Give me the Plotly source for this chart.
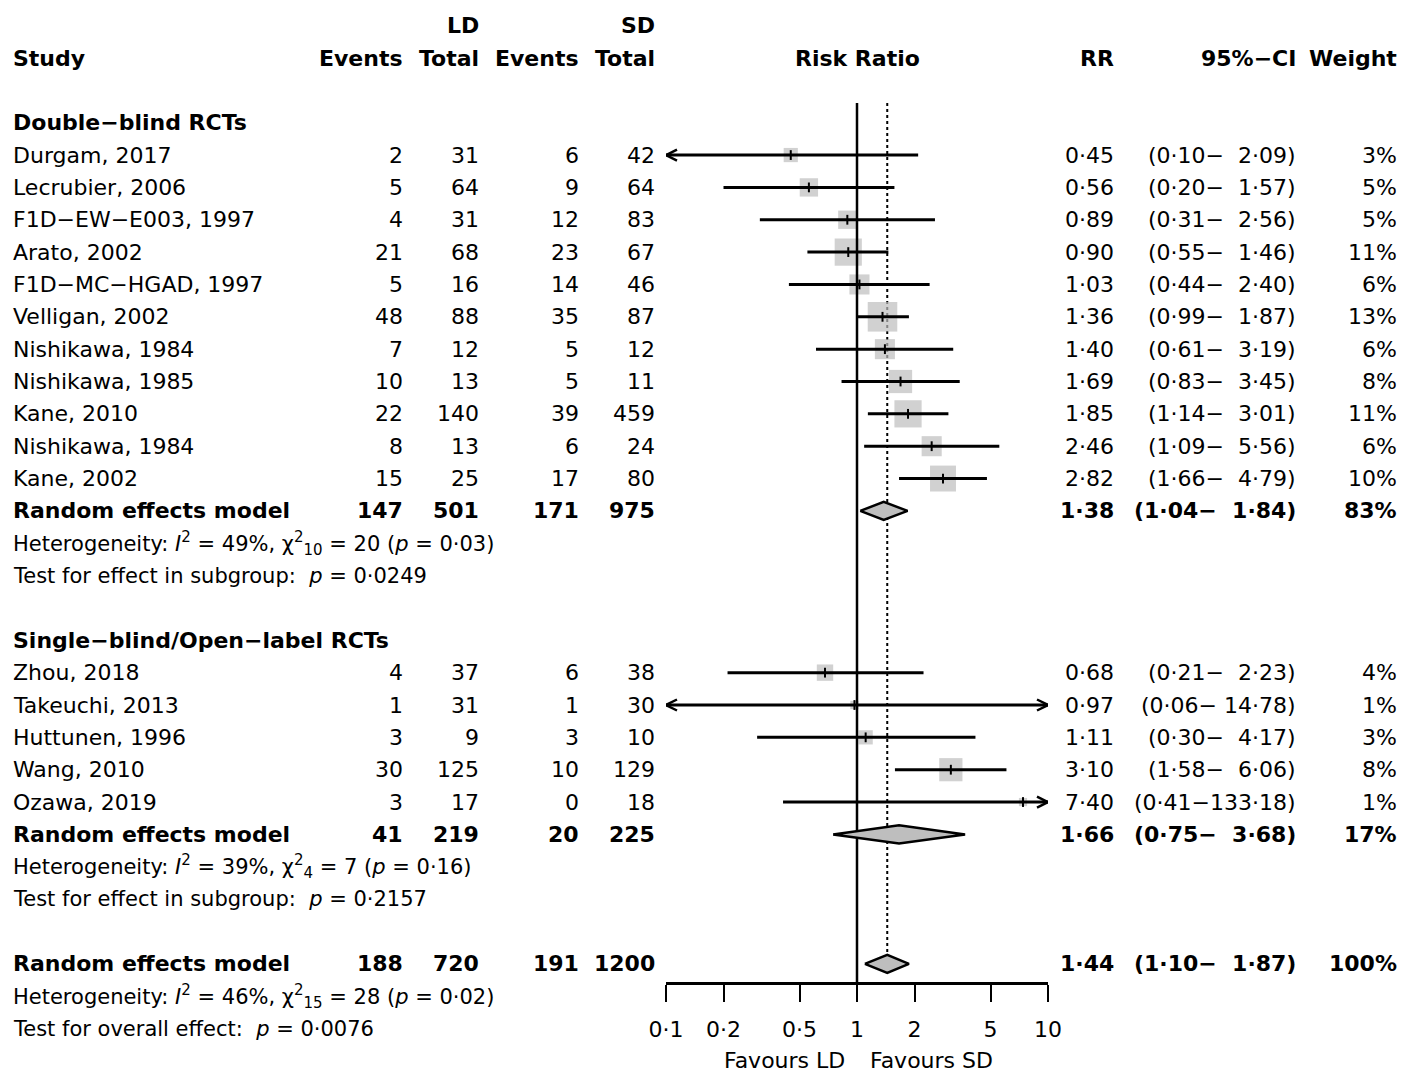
import math
import plotly.graph_objects as go

W, H = 1401, 1073
FONT = "DejaVu Sans"
FS = 22
FS_HET = 21

# ---------------- data ----------------
group_names = ["Double−blind RCTs", "Single−blind/Open−label RCTs"]

db_study = ["Durgam, 2017", "Lecrubier, 2006", "F1D−EW−E003, 1997", "Arato, 2002",
            "F1D−MC−HGAD, 1997", "Velligan, 2002", "Nishikawa, 1984", "Nishikawa, 1985",
            "Kane, 2010", "Nishikawa, 1984", "Kane, 2002"]
db_ld_events = [2, 5, 4, 21, 5, 48, 7, 10, 22, 8, 15]
db_ld_total = [31, 64, 31, 68, 16, 88, 12, 13, 140, 13, 25]
db_sd_events = [6, 9, 12, 23, 14, 35, 5, 5, 39, 6, 17]
db_sd_total = [42, 64, 83, 67, 46, 87, 12, 11, 459, 24, 80]
db_rr = [0.45, 0.56, 0.89, 0.90, 1.03, 1.36, 1.40, 1.69, 1.85, 2.46, 2.82]
db_lo = [0.10, 0.20, 0.31, 0.55, 0.44, 0.99, 0.61, 0.83, 1.14, 1.09, 1.66]
db_hi = [2.09, 1.57, 2.56, 1.46, 2.40, 1.87, 3.19, 3.45, 3.01, 5.56, 4.79]
db_weight = [3, 5, 5, 11, 6, 13, 6, 8, 11, 6, 10]

sb_study = ["Zhou, 2018", "Takeuchi, 2013", "Huttunen, 1996", "Wang, 2010", "Ozawa, 2019"]
sb_ld_events = [4, 1, 3, 30, 3]
sb_ld_total = [37, 31, 9, 125, 17]
sb_sd_events = [6, 1, 3, 10, 0]
sb_sd_total = [38, 30, 10, 129, 18]
sb_rr = [0.68, 0.97, 1.11, 3.10, 7.40]
sb_lo = [0.21, 0.06, 0.30, 1.58, 0.41]
sb_hi = [2.23, 14.78, 4.17, 6.06, 133.18]
sb_weight = [4, 1, 3, 8, 1]

pooled_label = ["Random effects model", "Random effects model", "Random effects model"]
pooled_ld_events = [147, 41, 188]
pooled_ld_total = [501, 219, 720]
pooled_sd_events = [171, 20, 191]
pooled_sd_total = [975, 225, 1200]
pooled_rr = [1.38, 1.66, 1.44]
pooled_lo = [1.04, 0.75, 1.10]
pooled_hi = [1.84, 3.68, 1.87]
pooled_weight = [83, 17, 100]

het_i2 = [49, 39, 46]
het_df = [10, 4, 15]
het_q = [20, 7, 28]
het_p = ["0·03", "0·16", "0·02"]
test_label = ["Test for effect in subgroup:", "Test for effect in subgroup:", "Test for overall effect:"]
test_p = ["0·0249", "0·2157", "0·0076"]

tick_values = [0.1, 0.2, 0.5, 1, 2, 5, 10]
tick_labels = ["0·1", "0·2", "0·5", "1", "2", "5", "10"]
label_left = "Favours LD"
label_right = "Favours SD"

# ---------------- layout helpers ----------------
ROW_PX = 32.35
Y0_PX = 58.0
y_top = -Y0_PX / ROW_PX
y_bot = (H - Y0_PX) / ROW_PX

X_LO_PX, X_HI_PX = 666, 1048
XMIN, XMAX = 0.1, 10.0

COL_STUDY = 14
COL_LDE = 402
COL_LDT = 478
COL_SDE = 578
COL_SDT = 654
COL_RISK = 857
COL_RR = 1113
COL_CI = 1295
COL_W = 1396
PAD = 3  # compensate annotation padding

NBSP = "\u00a0"


def dot(v, nd=2):
    return f"{v:.{nd}f}".replace(".", "·")


def ci_text(lo, hi):
    h = dot(hi)
    return "(" + dot(lo) + "−" + NBSP * (6 - len(h)) + h + ")"


annotations = []


def txt(xpx, row, s, anchor="right", bold=False, size=FS):
    if anchor == "right":
        xpx = xpx + PAD
    elif anchor == "left":
        xpx = xpx - PAD
    annotations.append(dict(
        x=xpx / W, xref="paper", y=row, yref="y",
        text=f"<b>{s}</b>" if bold else s,
        xanchor=anchor, yanchor="middle", showarrow=False,
        font=dict(family=FONT, size=size, color="black")))


def span(s, size, italic=False):
    inner = f"<i>{s}</i>" if italic else s
    return f"<span style='font-size:{size}px'>{inner}</span>"


# headers
txt(COL_LDT, -1, "LD", bold=True)
txt(COL_SDT, -1, "SD", bold=True)
txt(COL_STUDY, 0, "Study", "left", bold=True)
txt(COL_LDE, 0, "Events", bold=True)
txt(COL_LDT, 0, "Total", bold=True)
txt(COL_SDE, 0, "Events", bold=True)
txt(COL_SDT, 0, "Total", bold=True)
txt(COL_RISK, 0, "Risk Ratio", "center", bold=True)
txt(COL_RR, 0, "RR", bold=True)
txt(COL_CI, 0, "95%−CI", bold=True)
txt(COL_W, 0, "Weight", bold=True)

groups = [
    (db_study, db_ld_events, db_ld_total, db_sd_events, db_sd_total, db_rr, db_lo, db_hi, db_weight),
    (sb_study, sb_ld_events, sb_ld_total, sb_sd_events, sb_sd_total, sb_rr, sb_lo, sb_hi, sb_weight),
]

st_rows, st_rr, st_lo, st_hi, st_w = [], [], [], [], []
pooled_rows = []
het_rows = []

row = 2
for gi, g in enumerate(groups):
    names, lde, ldt, sde, sdt, rr, lo, hi, wt = g
    txt(COL_STUDY, row, group_names[gi], "left", bold=True)
    row += 1
    for i in range(len(names)):
        txt(COL_STUDY, row, names[i], "left")
        txt(COL_LDE, row, str(lde[i]))
        txt(COL_LDT, row, str(ldt[i]))
        txt(COL_SDE, row, str(sde[i]))
        txt(COL_SDT, row, str(sdt[i]))
        txt(COL_RR, row, dot(rr[i]))
        txt(COL_CI, row, ci_text(lo[i], hi[i]))
        txt(COL_W, row, f"{wt[i]}%")
        st_rows.append(row); st_rr.append(rr[i]); st_lo.append(lo[i]); st_hi.append(hi[i]); st_w.append(wt[i])
        row += 1
    pooled_rows.append(row)
    row += 1
    het_rows.append(row)
    row += 3
pooled_rows.append(row)
het_rows.append(row + 1)

SUBSZ = 15
for k in range(3):
    r = pooled_rows[k]
    txt(COL_STUDY, r, pooled_label[k], "left", bold=True)
    txt(COL_LDE, r, str(pooled_ld_events[k]), bold=True)
    txt(COL_LDT, r, str(pooled_ld_total[k]), bold=True)
    txt(COL_SDE, r, str(pooled_sd_events[k]), bold=True)
    txt(COL_SDT, r, str(pooled_sd_total[k]), bold=True)
    txt(COL_RR, r, dot(pooled_rr[k]), bold=True)
    txt(COL_CI, r, ci_text(pooled_lo[k], pooled_hi[k]), bold=True)
    txt(COL_W, r, f"{pooled_weight[k]}%", bold=True)
    hr = het_rows[k]
    het = ("Heterogeneity: " + span("I", FS_HET, True) + "<sup>" + span("2", SUBSZ) + "</sup>"
           + f" = {het_i2[k]}%, χ" + "<sup>" + span("2", SUBSZ) + "</sup>"
           + "<sub>" + span(str(het_df[k]), SUBSZ) + "</sub>"
           + f" = {het_q[k]} (" + span("p", FS_HET, True) + f" = {het_p[k]})")
    txt(COL_STUDY, hr, het, "left", size=FS_HET)
    txt(COL_STUDY, hr + 1, f"{test_label[k]}{NBSP}{NBSP}" + span("p", FS_HET, True) + f" = {test_p[k]}",
        "left", size=FS_HET)

fav_row = (1060 - Y0_PX) / ROW_PX
axis_row = (983 - Y0_PX) / ROW_PX
txt(844, fav_row, label_left, "right")
txt(871, fav_row, label_right, "left")

# ---------------- marks ----------------
fig = go.Figure()

top_row = (103 - Y0_PX) / ROW_PX
DIAM_H = 0.28

# dotted line at overall estimate
fig.add_trace(go.Scatter(x=[pooled_rr[2], pooled_rr[2]], y=[top_row, pooled_rows[2] - DIAM_H],
                         mode="lines", line=dict(color="black", width=2, dash="dot"),
                         hoverinfo="skip", showlegend=False))

# squares
fig.add_trace(go.Scatter(x=st_rr, y=st_rows, mode="markers",
                         marker=dict(symbol="square", color="#BEBEBE",
                                     size=[8.2 * math.sqrt(w) for w in st_w], line=dict(width=0)),
                         hoverinfo="skip", showlegend=False))

# null line
fig.add_trace(go.Scatter(x=[1, 1], y=[top_row, axis_row], mode="lines",
                         line=dict(color="black", width=2.5), hoverinfo="skip", showlegend=False))

# CI lines with arrows where clipped
ARROW_F = 10 ** (11 / 191.0)
ARROW_H = 5.5 / ROW_PX
lx, ly, ax, ay = [], [], [], []
for r, lo, hi in zip(st_rows, st_lo, st_hi):
    a = max(lo, XMIN)
    b = min(hi, XMAX)
    lx += [a, b, None]; ly += [r, r, None]
    if lo <= XMIN:
        ax += [XMIN * ARROW_F, XMIN, XMIN * ARROW_F, None]
        ay += [r - ARROW_H, r, r + ARROW_H, None]
    if hi >= XMAX:
        ax += [XMAX / ARROW_F, XMAX, XMAX / ARROW_F, None]
        ay += [r - ARROW_H, r, r + ARROW_H, None]
fig.add_trace(go.Scatter(x=lx, y=ly, mode="lines", line=dict(color="black", width=3),
                         hoverinfo="skip", showlegend=False))
fig.add_trace(go.Scatter(x=ax, y=ay, mode="lines", line=dict(color="black", width=2.5),
                         hoverinfo="skip", showlegend=False))

# estimate ticks
fig.add_trace(go.Scatter(x=st_rr, y=st_rows, mode="markers",
                         marker=dict(symbol="line-ns", size=7, color="black",
                                     line=dict(width=2, color="black")),
                         hoverinfo="skip", showlegend=False))

# diamonds
for k in range(3):
    r = pooled_rows[k]
    fig.add_trace(go.Scatter(
        x=[pooled_lo[k], pooled_rr[k], pooled_hi[k], pooled_rr[k], pooled_lo[k]],
        y=[r, r - DIAM_H, r, r + DIAM_H, r],
        mode="lines", fill="toself", fillcolor="#BEBEBE",
        line=dict(color="black", width=2.5), hoverinfo="skip", showlegend=False))

axis_pos = (y_bot - axis_row) / (y_bot - y_top)

fig.update_layout(
    width=W, height=H,
    margin=dict(l=0, r=0, t=0, b=0, autoexpand=False),
    paper_bgcolor="white", plot_bgcolor="white",
    showlegend=False,
    annotations=annotations,
    font=dict(family=FONT, size=FS, color="black"),
    xaxis=dict(type="log", range=[math.log10(XMIN), math.log10(XMAX)],
               domain=[X_LO_PX / W, X_HI_PX / W], anchor="free", position=axis_pos,
               showline=True, linecolor="black", linewidth=2.5,
               ticks="outside", ticklen=17, tickwidth=2, tickcolor="black",
               tickvals=tick_values, ticktext=tick_labels,
               tickfont=dict(family=FONT, size=FS, color="black"),
               ticklabelstandoff=9, automargin=False,
               showgrid=False, zeroline=False, fixedrange=True),
    yaxis=dict(range=[y_bot, y_top], domain=[0, 1], visible=False, automargin=False,
               showgrid=False, zeroline=False, fixedrange=True),
)

fig.write_html("out.html", config={"displayModeBar": False},
               post_script="document.body.style.margin='0';")
